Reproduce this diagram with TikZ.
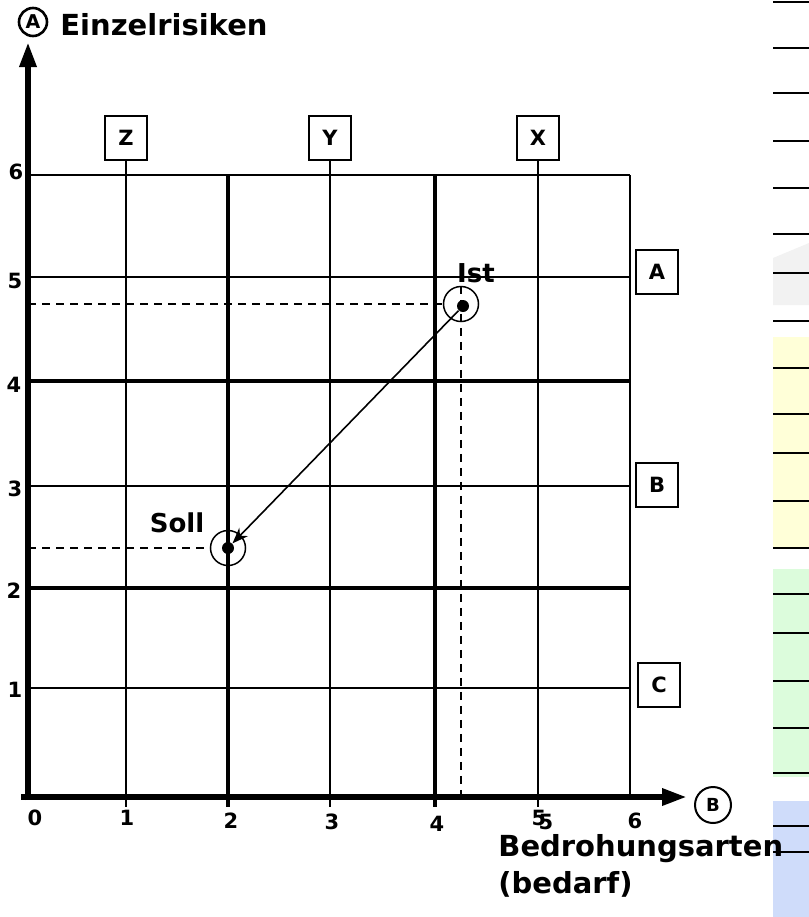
\documentclass[tikz,border=0pt]{standalone}
\usepackage{fontspec}
\setmainfont{DejaVu Sans}
\usetikzlibrary{arrows.meta}
\definecolor{stripgray}{HTML}{F2F2F2}
\definecolor{stripyellow}{HTML}{FFFFD8}
\definecolor{stripgreen}{HTML}{DCFCDC}
\definecolor{stripblue}{HTML}{CFDCFA}

\begin{document}
\begin{tikzpicture}[x=0.5pt,y=-0.5pt,
  lbl/.style={font=\bfseries\fontsize{10.5}{12}\selectfont,inner sep=0pt},
  ptlbl/.style={font=\bfseries\fontsize{13}{15}\selectfont,inner sep=0pt},
  title/.style={font=\bfseries\fontsize{14.5}{18.5}\selectfont,inner sep=0pt,align=left},
  tag/.style={draw,line width=0.75pt,minimum width=21pt,minimum height=22pt,
    inner sep=0pt,font=\bfseries\fontsize{10.5}{12}\selectfont},
  axisname/.style={draw,circle,inner sep=0pt,font=\bfseries\fontsize{9}{10}\selectfont},
  gridthin/.style={line width=0.8pt},
  gridthick/.style={line width=2pt},
  axis/.style={line width=3pt,-{Triangle[length=12.5pt,width=8pt]}},
  pt/.style={circle,fill,inner sep=0pt,minimum size=6pt},
  ring/.style={circle,draw,line width=0.75pt,minimum size=17.5pt,inner sep=0pt},
  guide/.style={line width=0.7pt,dash pattern=on 4pt off 3pt},
  stripline/.style={line width=1pt}]
\useasboundingbox (0,0) rectangle (809,917);

% side strip
\fill[stripgray] (773,258) -- (809,243) -- (809,305) -- (773,305) -- cycle;
\fill[stripyellow] (773,337) rectangle (809,548);
\fill[stripgreen] (773,569) rectangle (809,777);
\fill[stripblue] (773,801) rectangle (809,917);
\foreach \y in {2,48,93,141,188,234,273,321,368,414,453,501,548,594,633,681,728,773,826,852}
  \draw[stripline] (773,\y) -- (809,\y);

% grid
\foreach \y/\w in {175/gridthin,277/gridthin,381/gridthick,486/gridthin,588/gridthick,688/gridthin}
  \draw[\w] (28,\y) -- (630,\y);
\draw[gridthick] (228,175) -- (228,807);
\draw[gridthick] (435,175) -- (435,807);
\draw[gridthin] (630,175) -- (630,797);

\node[tag](boxZ) at (126,138){Z};
\node[tag](boxY) at (330,138){Y};
\node[tag](boxX) at (538,138){X};
\node[tag](boxA) at (657,272){A};
\node[tag](boxB) at (657,485){B};
\node[tag](boxC) at (659,685){C};
\draw[gridthin](boxZ.south) -- ++(0,646);
\draw[gridthin](boxY.south) -- ++(0,646);
\draw[gridthin](boxX.south) -- ++(0,646);

% axes
\coordinate (xstart) at (21,797);
\coordinate (xtip) at (687,797);
\coordinate (ystart) at (28,800);
\coordinate (ytip) at (28,42);
\draw[axis](ystart) -- (ytip);
\draw[axis](xstart) -- (xtip);
\node[axisname,line width=1.3pt,minimum size=14pt,font=\bfseries\fontsize{9.5}{10}\selectfont](nameA) at (33,22){A};
\node[axisname,line width=1pt,minimum size=18pt](nameB) at (713,805){B};
\node[title,anchor=west](ylabel) at (60,25){Einzelrisiken};
\node[title,anchor=north west](xlabel) at (498,834){Bedrohungsarten\\(bedarf)};

\foreach \t/\x/\y in {0/35/818,1/127/818,2/231/821,3/332/822,4/437/824,5/539/818,6/635/821}
  \node[lbl](xtick\t) at (\x,\y){\t};
\node[lbl](xtick5b) at (546,822){5};
\foreach \t/\x/\y in {1/15/690,2/14/591,3/15/489,4/14/385,5/15/281,6/16/172}
  \node[lbl](ytick\t) at (\x,\y){\t};

% actual and target
\node[pt](ist) at (463,306){};
\node[ring](istring) at (461,304){};
\node[ptlbl](istlbl) at (476,273){Ist};
\node[pt](soll) at (228,548){};
\node[ring](sollring) at (228,548){};
\node[ptlbl](solllbl) at (177,523){Soll};
\coordinate (istleft) at (28,304);
\coordinate (istfoot) at (461,797);
\coordinate (sollleft) at (28,548);
\draw[guide](istleft) -- (istring.west);
\draw[guide](istring.north) -- (istfoot);
\draw[guide](sollleft) -- (sollring.west);
\draw[line width=0.8pt,-{Stealth[length=8pt,width=6pt]}](ist) -- (soll);
\end{tikzpicture}
\end{document}
